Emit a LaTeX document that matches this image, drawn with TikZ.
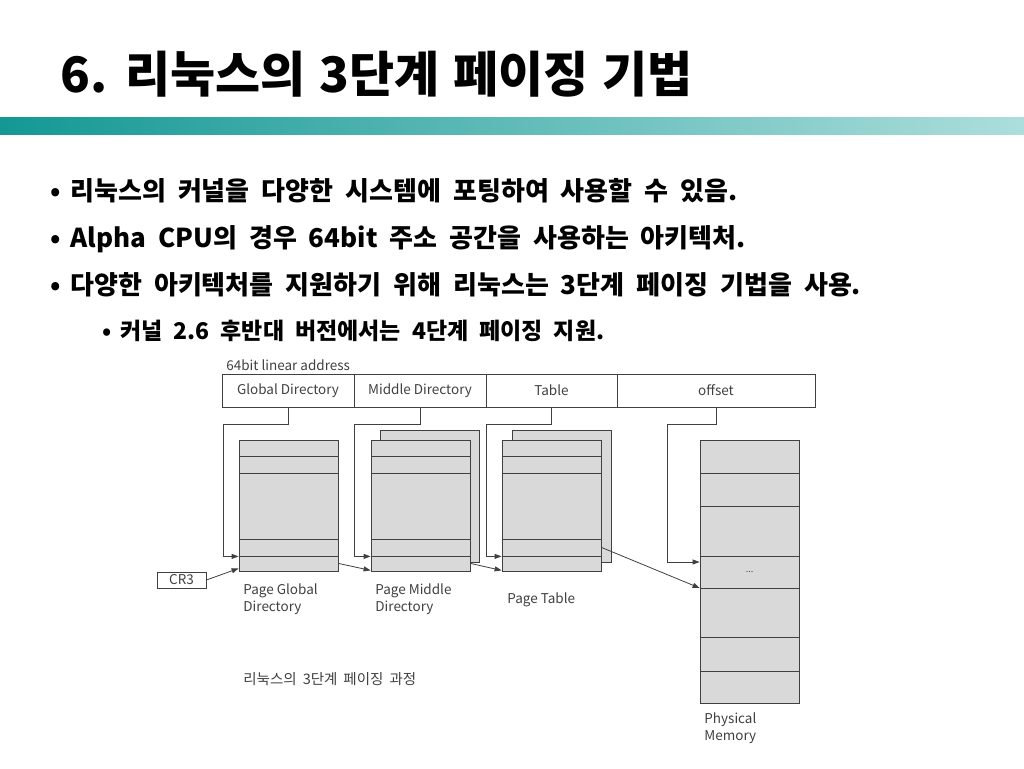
\documentclass[tikz,border=0pt]{standalone}
\usepackage{fontspec}
\setmainfont{Noto Sans CJK KR}
\usetikzlibrary{arrows.meta}
\definecolor{barL}{RGB}{20,152,148}
\definecolor{barR}{RGB}{172,222,220}
\definecolor{ink}{RGB}{64,64,64}
\newcommand\wordsp[1]{\spaceskip=#1\relax}
\tikzset{
  cell/.style={draw=ink, inner sep=0pt, minimum height=33pt, font=\fontsize{13.5}{15}\selectfont, text=ink},
  tbl/.style={draw=ink, fill=black!15, inner sep=0pt, minimum width=99pt},
  arr/.style={draw=ink, -{Triangle[length=7pt,width=5pt]}},
  lbl/.style={inner sep=0pt, align=left, font=\fontsize{13.5}{17}\selectfont, text=ink},
  bul/.style={anchor=base west, inner sep=0pt, font={\fontsize{26}{30}\selectfont\bfseries\wordsp{12pt}}},
  subbul/.style={bul, font={\fontsize{23}{26}\selectfont\bfseries\wordsp{11pt}}}
}
\begin{document}
\begin{tikzpicture}[x=1pt, y=-1pt, line width=0.8pt]
  \useasboundingbox (0,0) rectangle (1024,768);
  \shade[left color=barL, right color=barR] (0,117) rectangle (1024,134);
  \node[anchor=base west, inner sep=0pt, font={\fontsize{49}{56}\selectfont\bfseries\wordsp{14pt}}] (title) at (60,92) {6. 리눅스의 3단계 페이징 기법};

  \foreach \y/\t [count=\i] in {200/리눅스의 커널을 다양한 시스템에 포팅하여 사용할 수 있음.,
                               247/Alpha CPU의 경우 64bit 주소 공간을 사용하는 아키텍처.,
                               294/다양한 아키텍처를 지원하기 위해 리눅스는 3단계 페이징 기법을 사용.}{
    \node[bul, anchor=base] (dot\i) at (56,\y) {•};
    \node[bul] (item\i) at (70,\y) {\t};
  }
  \node[subbul, anchor=base] (dot4) at (107,339) {•};
  \node[subbul] (item4) at (120,339) {커널 2.6 후반대 버전에서는 4단계 페이징 지원.};

  % linear address
  \node[lbl, anchor=west] (addr) at (226,365) {64bit linear address};
  \node[cell, minimum width=132pt] (gd) at (288,390.5) {Global Directory};
  \node[cell, minimum width=132pt] (md) at (420,390.5) {Middle Directory};
  \node[cell, minimum width=131pt] (tb) at (551.5,390.5) {Table};
  \node[cell, minimum width=198pt] (off) at (716,390.5) {offset};

  % tables
  \foreach \x in {380,512}
    \draw[draw=ink, fill=black!15] (\x,430) rectangle ++(99,132);
  \node[tbl, minimum height=131pt] (pgd) at (288.5,505.5) {};
  \node[tbl, minimum height=131pt] (pmd) at (420.5,505.5) {};
  \node[tbl, minimum height=131pt] (pt) at (551.5,505.5) {};
  \foreach \x in {239,371,502}
    \foreach \y in {456,473,539,556}
      \draw[ink] (\x,\y) -- ++(99,0);
  \node[tbl, minimum height=263pt] (pm) at (749.5,571.5) {};
  \foreach \y in {473,506,556,588,637,671}
    \draw[ink] (700,\y) -- ++(99,0);
  \node[text=ink, font=\fontsize{9}{10}\selectfont] (dots) at (749.5,572) {...};

  \node[cell, minimum width=49pt, minimum height=16pt] (cr3) at (181.5,580) {CR3};

  % connectors
  \draw[arr] (gd.south) -- ++(0,17) -- ++(-65,0) |- ([yshift=15]pgd.south west);
  \draw[arr] (md.south) -- ++(0,17) -- ++(-66,0) |- ([yshift=15]pmd.south west);
  \draw[arr] (tb.south) -- ++(0,17) -- ++(-65.5,0) |- ([yshift=15]pt.south west);
  \draw[arr] (off.south) -- ++(0,17) -- ++(-49,0) |- ([yshift=9.5]pm.west);
  \draw[arr] (cr3.east) -- ([yshift=3]pgd.south west);
  \draw[arr] ([yshift=8]pgd.south east) -- ([yshift=1]pmd.south west);
  \draw[arr] ([yshift=8]pmd.south east) -- ([yshift=1]pt.south west);
  \draw[arr] ([yshift=24]pt.south east) -- ([yshift=-16.5]pm.west);

  % labels
  \node[lbl, anchor=north west] (pgdl) at (243,583) {Page Global\\Directory};
  \node[lbl, anchor=north west] (pmdl) at (375,583) {Page Middle\\Directory};
  \node[lbl, anchor=west] (ptl) at (507,600) {Page Table};
  \node[lbl, anchor=north west] (pml) at (704,712) {Physical\\Memory};
  \node[lbl, anchor=west, font={\fontsize{14.5}{16}\selectfont\wordsp{6pt}}] (cap) at (243,679) {리눅스의 3단계 페이징 과정};
\end{tikzpicture}
\end{document}
